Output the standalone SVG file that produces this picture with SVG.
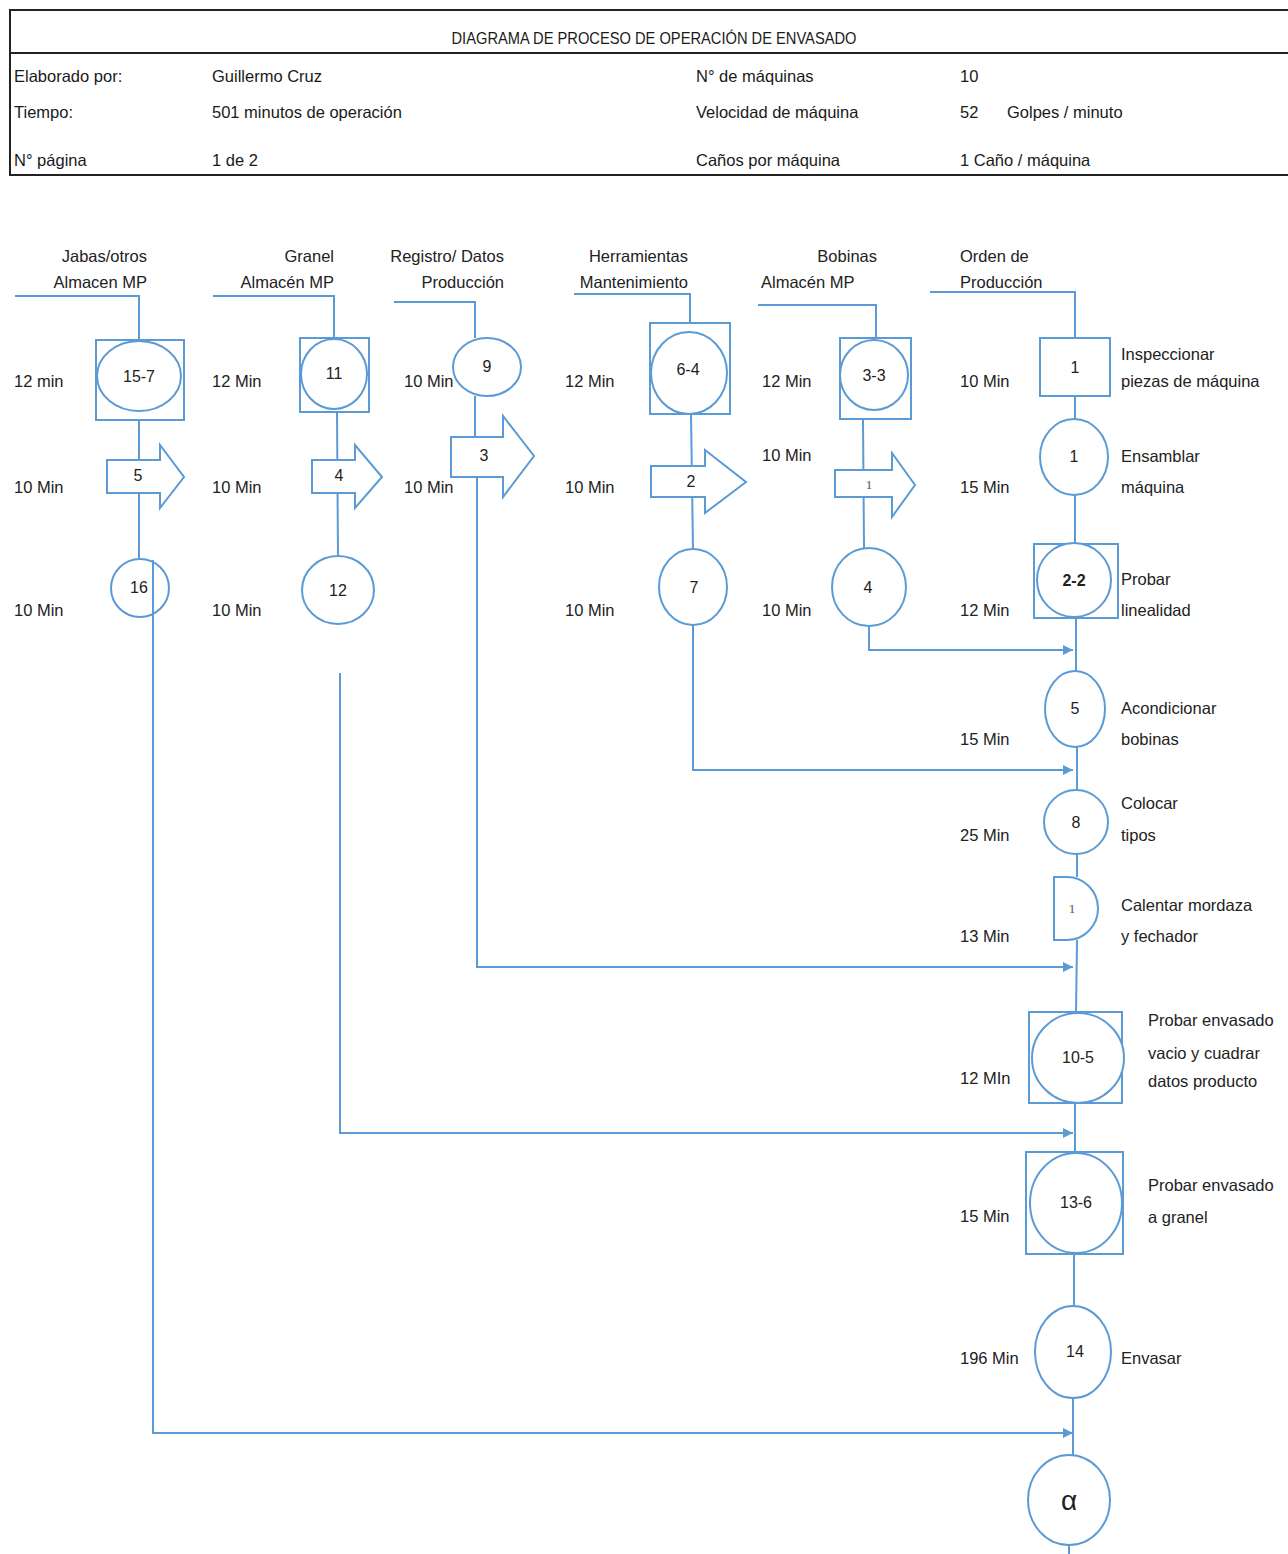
<svg xmlns="http://www.w3.org/2000/svg" width="1288" height="1554" viewBox="0 0 1288 1554">
  <defs>
    <marker id="ah" viewBox="0 0 10 10" refX="10" refY="5" markerWidth="10" markerHeight="10" markerUnits="userSpaceOnUse" orient="auto">
      <path d="M0,0 L10,5 L0,10 z" fill="#5B9BD5"/>
    </marker>
    <style>
      text { font-family: "Liberation Sans", Arial, sans-serif; font-size: 16.5px; fill: #222; }
      .hd { font-size: 16.5px; fill: #1a1a1a; }
      .num { text-anchor: middle; font-size: 16px; }
      .big { font-size: 28px; }
      .sm { text-anchor: middle; font-family: "Liberation Serif", serif; font-size: 13px; fill: #555; }
      .end { text-anchor: end; }
      .shp { fill: #fff; stroke: #5B9BD5; stroke-width: 2; }
      .ln { fill: none; stroke: #5B9BD5; stroke-width: 2; }
      .frame { fill: none; stroke: #222; stroke-width: 2; }
    </style>
  </defs>
  <rect width="1288" height="1554" fill="#fff"/>

  <!-- Header table -->
  <g id="header">
    <rect class="frame" x="10" y="10" width="1290" height="165"/>
    <line class="frame" x1="10" y1="53" x2="1288" y2="53"/>
    <text class="hd" x="654" y="44" text-anchor="middle" textLength="405" lengthAdjust="spacingAndGlyphs">DIAGRAMA DE PROCESO DE OPERACIÓN DE ENVASADO</text>
    <text class="hd" x="14" y="82">Elaborado por:</text>
    <text class="hd" x="212" y="82">Guillermo Cruz</text>
    <text class="hd" x="696" y="82">N° de máquinas</text>
    <text class="hd" x="960" y="82">10</text>
    <text class="hd" x="14" y="118">Tiempo:</text>
    <text class="hd" x="212" y="118">501 minutos de operación</text>
    <text class="hd" x="696" y="118">Velocidad de  máquina</text>
    <text class="hd" x="960" y="118">52</text>
    <text class="hd" x="1007" y="118">Golpes / minuto</text>
    <text class="hd" x="14" y="166">N° página</text>
    <text class="hd" x="212" y="166">1 de 2</text>
    <text class="hd" x="696" y="166">Caños por máquina</text>
    <text class="hd" x="960" y="166">1 Caño / máquina</text>
  </g>

  <!-- Connectors -->
  <g id="connectors">
    <!-- column 1 -->
    <polyline class="ln" points="15,296 139,296 139,340"/>
    <line class="ln" x1="139" y1="420" x2="139" y2="558"/>
    <polyline class="ln" points="153,560 153,1433 1073,1433" marker-end="url(#ah)"/>
    <!-- column 2 -->
    <polyline class="ln" points="213,296 334,296 334,338"/>
    <line class="ln" x1="337" y1="412" x2="338" y2="557"/>
    <polyline class="ln" points="340,673 340,1133 1073,1133" marker-end="url(#ah)"/>
    <!-- column 3 -->
    <polyline class="ln" points="394,302 475,302 475,338"/>
    <line class="ln" x1="475" y1="396" x2="475" y2="437"/>
    <polyline class="ln" points="477,477 477,967 1073,967" marker-end="url(#ah)"/>
    <!-- column 4 -->
    <polyline class="ln" points="574,294 690,294 690,323"/>
    <line class="ln" x1="691" y1="414" x2="693" y2="550"/>
    <polyline class="ln" points="693,625 693,770 1073,770" marker-end="url(#ah)"/>
    <!-- column 5 -->
    <polyline class="ln" points="758,305 876,305 876,338"/>
    <line class="ln" x1="863" y1="419" x2="864" y2="548"/>
    <polyline class="ln" points="869,626 869,650 1073,650" marker-end="url(#ah)"/>
    <!-- main column -->
    <polyline class="ln" points="930,292 1075,292 1075,338"/>
    <line class="ln" x1="1075" y1="396" x2="1075" y2="420"/>
    <line class="ln" x1="1075" y1="495" x2="1075" y2="544"/>
    <line class="ln" x1="1076" y1="618" x2="1076" y2="672"/>
    <line class="ln" x1="1077" y1="747" x2="1077" y2="790"/>
    <line class="ln" x1="1077" y1="854" x2="1077" y2="877"/>
    <line class="ln" x1="1077" y1="940" x2="1076" y2="1013"/>
    <line class="ln" x1="1075" y1="1103" x2="1075" y2="1152"/>
    <line class="ln" x1="1074" y1="1254" x2="1074" y2="1306"/>
    <line class="ln" x1="1073" y1="1398" x2="1073" y2="1456"/>
    <line class="ln" x1="1069" y1="1545" x2="1069" y2="1554"/>
  </g>

  <!-- Column 1: Jabas/otros -->
  <g id="col1">
    <text class="end" x="147" y="262">Jabas/otros</text>
    <text class="end" x="147" y="288">Almacen MP</text>
    <text x="14" y="387">12 min</text>
    <text x="14" y="493">10 Min</text>
    <text x="14" y="616">10 Min</text>
  </g>
  <g id="n15-7">
    <rect class="shp" x="96" y="340" width="88" height="80"/>
    <ellipse class="shp" cx="139" cy="376" rx="42" ry="35"/>
    <text class="num" x="139" y="382">15-7</text>
  </g>
  <g id="t5">
    <path class="shp" d="M107,460 H160 V445 L184,477 L160,508 V493 H107 Z"/>
    <text class="num" x="138" y="481">5</text>
  </g>
  <g id="o16">
    <circle class="shp" cx="140" cy="588" r="29"/>
    <line class="ln" x1="153" y1="560" x2="153" y2="618"/>
    <text class="num" x="139" y="593">16</text>
  </g>

  <!-- Column 2: Granel -->
  <g id="col2">
    <text class="end" x="334" y="262">Granel</text>
    <text class="end" x="334" y="288">Almacén MP</text>
    <text x="212" y="387">12 Min</text>
    <text x="212" y="493">10 Min</text>
    <text x="212" y="616">10 Min</text>
  </g>
  <g id="n11">
    <rect class="shp" x="300" y="338" width="69" height="74"/>
    <ellipse class="shp" cx="334" cy="374" rx="33" ry="35"/>
    <text class="num" x="334" y="379">11</text>
  </g>
  <g id="t4">
    <path class="shp" d="M312,460 H355 V445 L382,477 L355,508 V493 H312 Z"/>
    <text class="num" x="339" y="481">4</text>
  </g>
  <g id="o12">
    <ellipse class="shp" cx="338" cy="590" rx="36" ry="34"/>
    <text class="num" x="338" y="596">12</text>
  </g>

  <!-- Column 3: Registro / Datos -->
  <g id="col3">
    <text class="end" x="504" y="262">Registro/ Datos</text>
    <text class="end" x="504" y="288">Producción</text>
  </g>
  <g id="o9">
    <ellipse class="shp" cx="487" cy="367" rx="34" ry="29"/>
    <text class="num" x="487" y="372">9</text>
  </g>
  <g id="col3-times">
    <text x="404" y="387">10 Min</text>
    <text x="404" y="493">10 Min</text>
  </g>
  <g id="t3">
    <path class="shp" d="M451,437 H503 V416 L534,456 L503,497 V477 H451 Z"/>
    <text class="num" x="484" y="461">3</text>
  </g>

  <!-- Column 4: Herramientas -->
  <g id="col4">
    <text class="end" x="688" y="262">Herramientas</text>
    <text class="end" x="688" y="288">Mantenimiento</text>
    <text x="565" y="387">12 Min</text>
    <text x="565" y="493">10 Min</text>
    <text x="565" y="616">10 Min</text>
  </g>
  <g id="n6-4">
    <rect class="shp" x="650" y="323" width="80" height="91"/>
    <ellipse class="shp" cx="689" cy="373" rx="38" ry="41"/>
    <text class="num" x="688" y="375">6-4</text>
  </g>
  <g id="t2">
    <path class="shp" d="M651,466 H705 V450 L746,482 L705,513 V497 H651 Z"/>
    <text class="num" x="691" y="487">2</text>
  </g>
  <g id="o7">
    <ellipse class="shp" cx="693" cy="587" rx="34" ry="38"/>
    <text class="num" x="694" y="593">7</text>
  </g>

  <!-- Column 5: Bobinas -->
  <g id="col5">
    <text class="end" x="877" y="262">Bobinas</text>
    <text x="761" y="288">Almacén MP</text>
    <text x="762" y="387">12 Min</text>
    <text x="762" y="461">10 Min</text>
    <text x="762" y="616">10 Min</text>
  </g>
  <g id="n3-3">
    <rect class="shp" x="840" y="338" width="71" height="81"/>
    <ellipse class="shp" cx="874" cy="375" rx="34" ry="35"/>
    <text class="num" x="874" y="381">3-3</text>
  </g>
  <g id="t1">
    <path class="shp" d="M835,470 H892 V453 L915,485 L892,517 V497 H835 Z"/>
    <text class="sm" x="869" y="489">1</text>
  </g>
  <g id="o4">
    <ellipse class="shp" cx="869" cy="587" rx="37" ry="39"/>
    <text class="num" x="868" y="593">4</text>
  </g>

  <!-- Main column: Orden de Producción -->
  <g id="col6">
    <text x="960" y="262">Orden de</text>
    <text x="960" y="288">Producción</text>
  </g>
  <g id="i1">
    <rect class="shp" x="1040" y="338" width="70" height="58"/>
    <text class="num" x="1075" y="373">1</text>
    <text x="1121" y="360">Inspeccionar</text>
    <text x="1121" y="387">piezas de máquina</text>
    <text x="960" y="387">10 Min</text>
  </g>
  <g id="o1">
    <ellipse class="shp" cx="1074" cy="457" rx="34" ry="38"/>
    <text class="num" x="1074" y="462">1</text>
    <text x="1121" y="462">Ensamblar</text>
    <text x="1121" y="493">máquina</text>
    <text x="960" y="493">15 Min</text>
  </g>
  <g id="c2-2">
    <rect class="shp" x="1034" y="544" width="84" height="74"/>
    <ellipse class="shp" cx="1074" cy="580" rx="37" ry="37"/>
    <text class="num" x="1074" y="586" font-weight="bold">2-2</text>
    <text x="1121" y="585">Probar</text>
    <text x="1121" y="616">linealidad</text>
    <text x="960" y="616">12 Min</text>
  </g>
  <g id="o5">
    <ellipse class="shp" cx="1075" cy="709" rx="30" ry="38"/>
    <text class="num" x="1075" y="714">5</text>
    <text x="1121" y="714">Acondicionar</text>
    <text x="1121" y="745">bobinas</text>
    <text x="960" y="745">15 Min</text>
  </g>
  <g id="o8">
    <ellipse class="shp" cx="1076" cy="822" rx="32" ry="32"/>
    <text class="num" x="1076" y="828">8</text>
    <text x="1121" y="809">Colocar</text>
    <text x="1121" y="841">tipos</text>
    <text x="960" y="841">25 Min</text>
  </g>
  <g id="d1">
    <path class="shp" d="M1054,877 H1067 A31,31.5 0 0 1 1067,940 H1054 Z"/>
    <text class="sm" x="1072" y="913">1</text>
    <text x="1121" y="911">Calentar mordaza</text>
    <text x="1121" y="942">y fechador</text>
    <text x="960" y="942">13 Min</text>
  </g>
  <g id="c10-5">
    <rect class="shp" x="1029" y="1012" width="93" height="91"/>
    <ellipse class="shp" cx="1078" cy="1058" rx="46" ry="45"/>
    <text class="num" x="1078" y="1063">10-5</text>
    <text x="1148" y="1026">Probar envasado</text>
    <text x="1148" y="1059">vacio y cuadrar</text>
    <text x="1148" y="1087">datos producto</text>
    <text x="960" y="1084">12 MIn</text>
  </g>
  <g id="c13-6">
    <rect class="shp" x="1026" y="1152" width="97" height="102"/>
    <ellipse class="shp" cx="1076" cy="1203" rx="46" ry="50"/>
    <text class="num" x="1076" y="1208">13-6</text>
    <text x="1148" y="1191">Probar envasado</text>
    <text x="1148" y="1223">a granel</text>
    <text x="960" y="1222">15 Min</text>
  </g>
  <g id="o14">
    <ellipse class="shp" cx="1073" cy="1352" rx="38" ry="46"/>
    <text class="num" x="1075" y="1357">14</text>
    <text x="1121" y="1364">Envasar</text>
    <text x="960" y="1364">196 Min</text>
  </g>
  <g id="alpha">
    <ellipse class="shp" cx="1069" cy="1500" rx="41" ry="45"/>
    <text class="num big" x="1069" y="1510">α</text>
  </g>
</svg>
